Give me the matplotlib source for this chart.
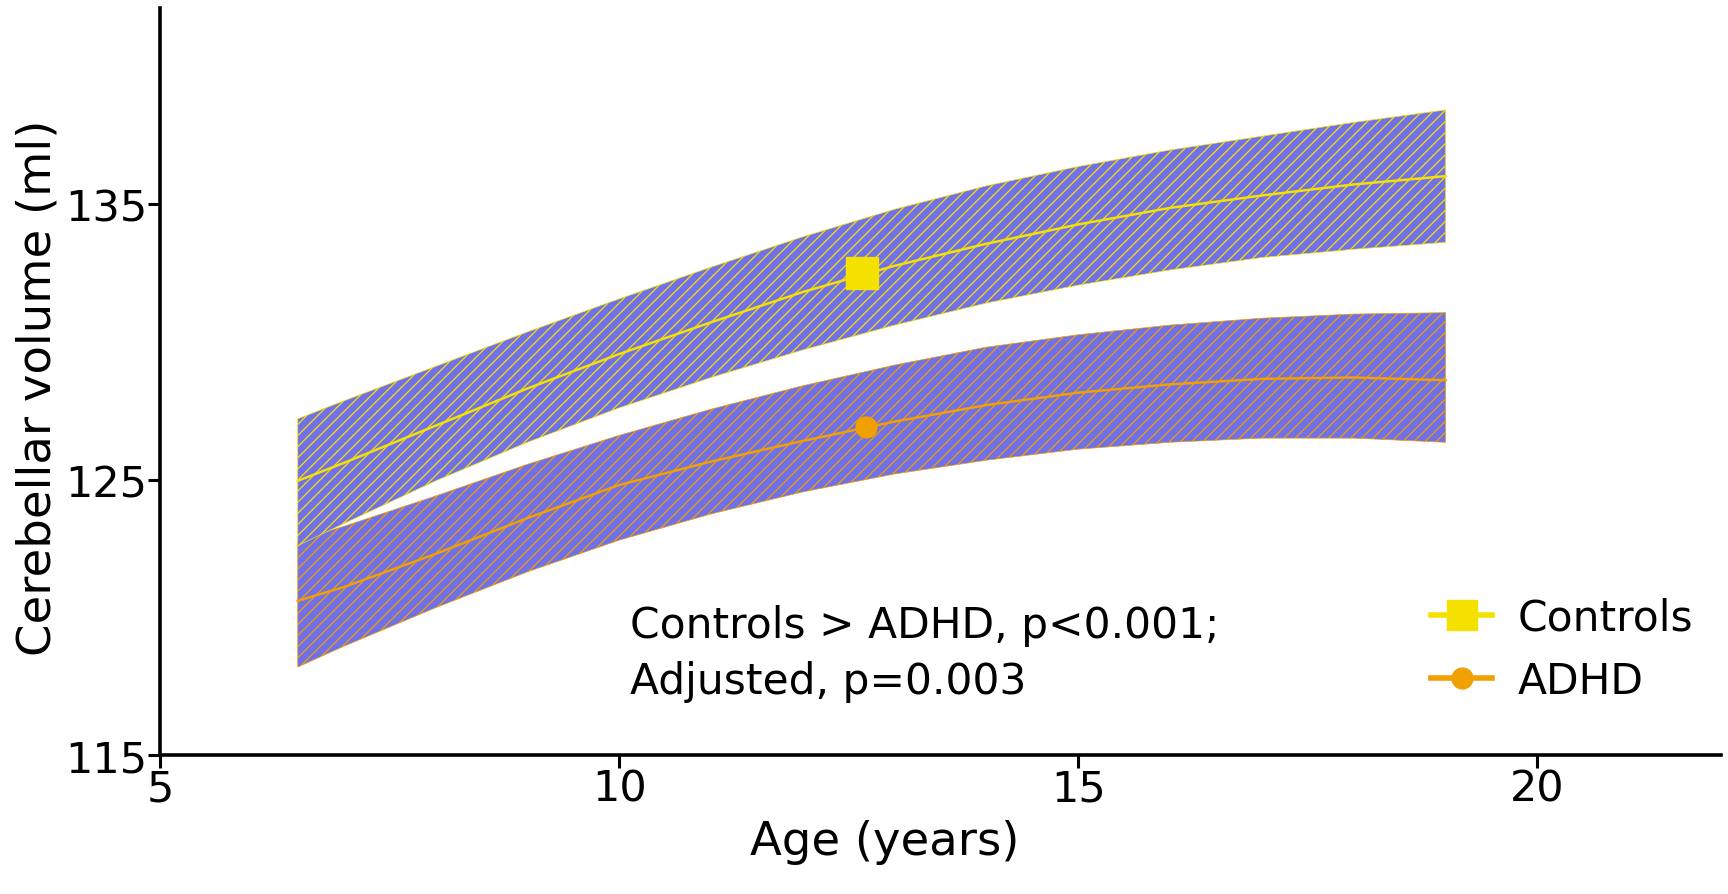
import numpy as np
import matplotlib
matplotlib.use("Agg")
import matplotlib.pyplot as plt
from matplotlib.lines import Line2D

age = [6.5, 7, 8, 9, 10, 11, 12, 13, 14, 15, 16, 17, 18, 19]

# controls: fitted mean and confidence band
ctrl_mean = [124.95, 125.6, 126.95, 128.3, 129.55, 130.7, 131.8, 132.75, 133.55, 134.25, 134.85, 135.3, 135.7, 136.0]
ctrl_upper = [127.2, 127.85, 129.1, 130.35, 131.55, 132.7, 133.8, 134.8, 135.65, 136.35, 136.95, 137.45, 137.95, 138.4]
ctrl_lower = [122.6, 123.4, 124.95, 126.35, 127.6, 128.7, 129.7, 130.6, 131.4, 132.05, 132.6, 133.05, 133.35, 133.6]

# ADHD: fitted mean and confidence band
adhd_mean = [120.6, 121.1, 122.3, 123.6, 124.8, 125.65, 126.4, 127.1, 127.7, 128.15, 128.45, 128.65, 128.7, 128.6]
adhd_upper = [122.8, 123.3, 124.4, 125.55, 126.6, 127.55, 128.4, 129.15, 129.8, 130.25, 130.6, 130.85, 131.0, 131.05]
adhd_lower = [118.2, 118.95, 120.35, 121.65, 122.8, 123.75, 124.55, 125.2, 125.7, 126.1, 126.35, 126.5, 126.5, 126.35]

# mean age / volume markers
ctrl_point = (12.64, 132.5)
adhd_point = (12.69, 126.9)

yticks = [115, 125, 135]
xticks = [5, 10, 15, 20]

YELLOW = "#f5e100"
ORANGE = "#f0a000"
PURPLE = "#7070e8"

plt.rcParams["font.family"] = "DejaVu Sans"
plt.rcParams["hatch.linewidth"] = 0.9

fig = plt.figure(figsize=(17.28, 8.95), dpi=100)
ax = fig.add_axes([0.0926, 0.155, 0.9034, 0.835])

# bands (hatch takes the edge colour)
ax.fill_between(age, ctrl_lower, ctrl_upper, facecolor=PURPLE, edgecolor=YELLOW,
                hatch="///", linewidth=0.5, zorder=2)
ax.fill_between(age, adhd_lower, adhd_upper, facecolor=PURPLE, edgecolor=ORANGE,
                hatch="///", linewidth=0.5, zorder=1)

ax.plot(age, ctrl_mean, color=YELLOW, lw=1.8, zorder=3)
ax.plot(age, adhd_mean, color=ORANGE, lw=1.8, zorder=3)
ax.plot(*ctrl_point, marker="s", ms=23, color=YELLOW, zorder=4)
ax.plot(*adhd_point, marker="o", ms=15, color=ORANGE, zorder=4)

ax.set_xlim(5, 22)
ax.set_ylim(115, 142.1)
ax.set_xticks(xticks)
ax.set_yticks(yticks)
ax.spines["top"].set_visible(False)
ax.spines["right"].set_visible(False)
for s in ("left", "bottom"):
    ax.spines[s].set_linewidth(2.6)
ax.tick_params(direction="out", length=9, width=2.2, labelsize=31, pad=0)

ax.set_xlabel("Age (years)", fontsize=33.5)
ax.xaxis.set_label_coords(885 / 1728, 52 / 895)
ax.xaxis.label.set_transform(fig.transFigure)
ax.xaxis.label.set_va("center")

ax.set_ylabel("Cerebellar volume (ml)", fontsize=33.5)
ax.yaxis.set_label_coords(38 / 1728, 1 - 388 / 895)
ax.yaxis.label.set_transform(fig.transFigure)
ax.yaxis.label.set_va("center")

ax.text(630 / 1728, 1 - 654 / 895, "Controls > ADHD, p<0.001;\nAdjusted, p=0.003",
        transform=fig.transFigure, fontsize=30.5, va="center", ha="left", linespacing=1.4)

handles = [
    Line2D([], [], color=YELLOW, lw=4, marker="s", ms=22),
    Line2D([], [], color=ORANGE, lw=4, marker="o", ms=15),
]
ax.legend(handles, ["Controls", "ADHD"], loc="center left",
          bbox_to_anchor=(1414 / 1728, 1 - 650 / 895), bbox_transform=fig.transFigure,
          frameon=False, fontsize=30.5, handlelength=1.45, handletextpad=0.6,
          labelspacing=0.5, borderaxespad=0)

fig.savefig("out.png", dpi=100)
